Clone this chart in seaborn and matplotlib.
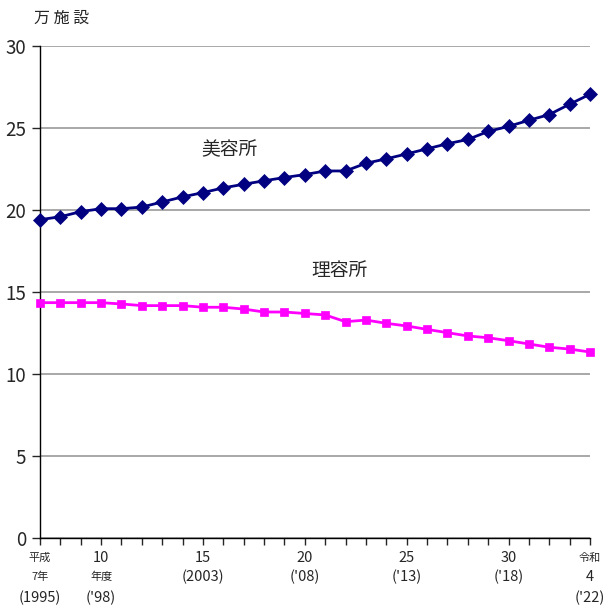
import numpy as np
import pandas as pd
import matplotlib
matplotlib.use("Agg")
import matplotlib.pyplot as plt
import matplotlib.transforms as mtransforms
import seaborn as sns

years = list(range(1995, 2023))
biyosho = [19.41, 19.59, 19.90, 20.08, 20.08, 20.18, 20.49, 20.80, 21.06, 21.35,
           21.57, 21.78, 21.98, 22.16, 22.38, 22.38, 22.85, 23.12, 23.42, 23.73,
           24.04, 24.30, 24.79, 25.10, 25.47, 25.82, 26.45, 27.06]
riyosho = [14.35, 14.35, 14.35, 14.35, 14.27, 14.17, 14.17, 14.17, 14.07, 14.07,
           13.96, 13.78, 13.78, 13.69, 13.60, 13.19, 13.29, 13.09, 12.93, 12.72,
           12.52, 12.32, 12.21, 12.03, 11.83, 11.63, 11.52, 11.34]

# x tick labels: (year, top line, middle line, bottom line)
tick_years = [1995, 1998, 2003, 2008, 2013, 2018, 2022]
tick_top = ["平成", "10", "15", "20", "25", "30", "令和"]
tick_mid = ["7年", "年度", "(2003)", "('08)", "('13)", "('18)", "4"]
tick_bot = ["(1995)", "('98)", "", "", "", "", "('22)"]

sns.set_style("white")
plt.rcParams["font.family"] = ["Noto Sans CJK JP", "DejaVu Sans"]

df = pd.DataFrame({"年": years, "美容所": biyosho, "理容所": riyosho})

fig = plt.figure(figsize=(6.12, 6.07), dpi=100)
ax = fig.add_axes([40 / 612, 1 - 538 / 607, 550 / 612, 492 / 607])

sns.lineplot(data=df, x="年", y="美容所", ax=ax, color="#000080", linewidth=2,
             marker="D", markersize=7, markeredgewidth=0.5, markeredgecolor="#000080",
             zorder=4, clip_on=False)
sns.lineplot(data=df, x="年", y="理容所", ax=ax, color="#FF00FF", linewidth=2,
             marker="s", markersize=6, markeredgewidth=0.5, markeredgecolor="#FF00FF",
             zorder=4, clip_on=False)

ax.set_xlim(years[0], years[-1])
ax.set_ylim(0, 30)
ax.set_yticks(np.arange(0, 31, 5))
ax.yaxis.grid(True, color="#999999", linewidth=1.2)
ax.set_axisbelow(True)
ax.tick_params(axis="y", labelsize=13.5, length=6, width=1, direction="out", left=True, pad=4)
ax.set_xticks(years)
ax.set_xticklabels([])
ax.tick_params(axis="x", length=5, width=1, direction="out", bottom=True)
ax.set_xlabel("")
ax.set_ylabel("")

for side in ["top", "right"]:
    ax.spines[side].set_visible(False)
for side in ["left", "bottom"]:
    ax.spines[side].set_color("black")
    ax.spines[side].set_linewidth(1)

trans = mtransforms.blended_transform_factory(ax.transData, fig.transFigure)
for i, yr in enumerate(tick_years):
    top_size = 8 if tick_top[i] in ("平成", "令和") else 10.5
    mid_size = 8 if tick_mid[i] in ("7年", "年度") else 10.5
    ax.text(yr, 1 - 558 / 607, tick_top[i], transform=trans, ha="center", va="center",
            fontsize=top_size, clip_on=False)
    ax.text(yr, 1 - 577 / 607, tick_mid[i], transform=trans, ha="center", va="center",
            fontsize=mid_size, clip_on=False)
    if tick_bot[i]:
        ax.text(yr, 1 - 598 / 607, tick_bot[i], transform=trans, ha="center", va="center",
                fontsize=10.5, clip_on=False)

ax.text(2004.3, 23.7, "美容所", fontsize=13.5, ha="center", va="center")
ax.text(2009.7, 16.3, "理容所", fontsize=13.5, ha="center", va="center")
fig.text(62 / 612, 1 - 18 / 607, "万 施 設", fontsize=11.5, ha="center", va="center")

fig.savefig("out.png", dpi=100)
